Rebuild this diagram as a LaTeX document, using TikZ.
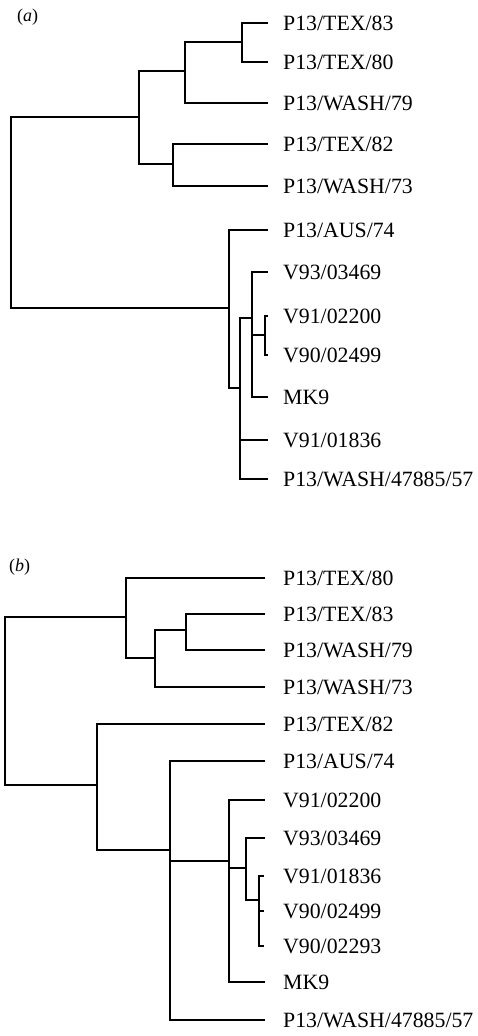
\documentclass[tikz,border=0pt]{standalone}
\usepackage{fontspec}
\setmainfont{Liberation Serif}
\begin{document}
\begin{tikzpicture}[x=1pt,y=-1pt,
  branch/.style={line width=1.8pt, line join=miter},
  leaflabel/.style={anchor=base west, inner sep=0pt, font=\fontsize{21.8}{24}\selectfont},
  panel/.style={anchor=base west, inner sep=0pt, font=\fontsize{18}{20}\selectfont}]
\useasboundingbox (0,0) rectangle (477,1036);

% ---------- panel (a) ----------
\node[panel] (pa) at (17,21) {(\textit{a})};
\foreach \n/\y/\t in {a1/23/P13\slash TEX\slash 83, a2/62/P13\slash TEX\slash 80, a3/103/P13\slash WASH\slash 79,
  a4/144/P13\slash TEX\slash 82, a5/186/P13\slash WASH\slash 73, a6/230/P13\slash AUS\slash 74,
  a7/272/V93\slash 03469, a8/316/V91\slash 02200, a9/355/V90\slash 02499, a10/397/MK9,
  a11/440/V91\slash 01836, a12/479/P13\slash WASH\slash 47885\slash 57}{
  \coordinate (\n t) at (268,\y);
  \node[leaflabel] (\n) at (283,\y+7.5) {\t};
}
\coordinate (na1) at (242,42);
\coordinate (na2) at (185,71);
\coordinate (na3) at (173,164);
\coordinate (na4) at (139,117);
\coordinate (na5) at (265,335);
\coordinate (na6) at (252,318);
\coordinate (na7) at (240,388);
\coordinate (na8) at (229,308);
\coordinate (ra) at (11,212);

\draw[branch] (na1) |- (a1t);
\draw[branch] (na1) |- (a2t);
\draw[branch] (na2) |- (na1);
\draw[branch] (na2) |- (a3t);
\draw[branch] (na3) |- (a4t);
\draw[branch] (na3) |- (a5t);
\draw[branch] (na4) |- (na2);
\draw[branch] (na4) |- (na3);
\draw[branch] (na5) |- (a8t);
\draw[branch] (na5) |- (a9t);
\draw[branch] (na6) |- (a7t);
\draw[branch] (na6) |- (na5);
\draw[branch] (na6) |- (a10t);
\draw[branch] (na7) |- (na6);
\draw[branch] (na7) |- (a11t);
\draw[branch] (na7) |- (a12t);
\draw[branch] (na8) |- (a6t);
\draw[branch] (na8) |- (na7);
\draw[branch] (ra) |- (na4);
\draw[branch] (ra) |- (na8);

% ---------- panel (b) ----------
\node[panel] (pb) at (9,571) {(\textit{b})};
\foreach \n/\y/\t in {b1/578/P13\slash TEX\slash 80, b2/614/P13\slash TEX\slash 83, b3/650/P13\slash WASH\slash 79,
  b4/687/P13\slash WASH\slash 73, b5/724/P13\slash TEX\slash 82, b6/761/P13\slash AUS\slash 74,
  b7/800/V91\slash 02200, b8/838/V93\slash 03469, b12/982/MK9, b13/1020/P13\slash WASH\slash 47885\slash 57}{
  \coordinate (\n t) at (265,\y);
  \node[leaflabel] (\n) at (283,\y+7.5) {\t};
}
\foreach \n/\y/\t in {b9/876/V91\slash 01836, b10/911/V90\slash 02499, b11/946/V90\slash 02293}{
  \coordinate (\n t) at (264,\y);
  \node[leaflabel] (\n) at (283,\y+7.5) {\t};
}
\coordinate (nb1) at (186,630);
\coordinate (nb2) at (155,658);
\coordinate (nb3) at (126,617);
\coordinate (nb4) at (259,900);
\coordinate (nb5) at (246,868);
\coordinate (nb6) at (229,861);
\coordinate (nb7) at (170,850);
\coordinate (nb8) at (97,785);
\coordinate (rb) at (5,700);

\draw[branch] (nb1) |- (b2t);
\draw[branch] (nb1) |- (b3t);
\draw[branch] (nb2) |- (nb1);
\draw[branch] (nb2) |- (b4t);
\draw[branch] (nb3) |- (b1t);
\draw[branch] (nb3) |- (nb2);
\draw[branch] (nb4) |- (b9t);
\draw[branch] (nb4) |- (b11t);
\draw[branch] (nb4) |- (b10t);
\draw[branch] (nb5) |- (b8t);
\draw[branch] (nb5) |- (nb4);
\draw[branch] (nb6) |- (b7t);
\draw[branch] (nb6) |- (nb5);
\draw[branch] (nb6) |- (b12t);
\draw[branch] (nb7) |- (b6t);
\draw[branch] (nb7) |- (nb6);
\draw[branch] (nb7) |- (b13t);
\draw[branch] (nb8) |- (b5t);
\draw[branch] (nb8) |- (nb7);
\draw[branch] (rb) |- (nb3);
\draw[branch] (rb) |- (nb8);
\end{tikzpicture}
\end{document}
